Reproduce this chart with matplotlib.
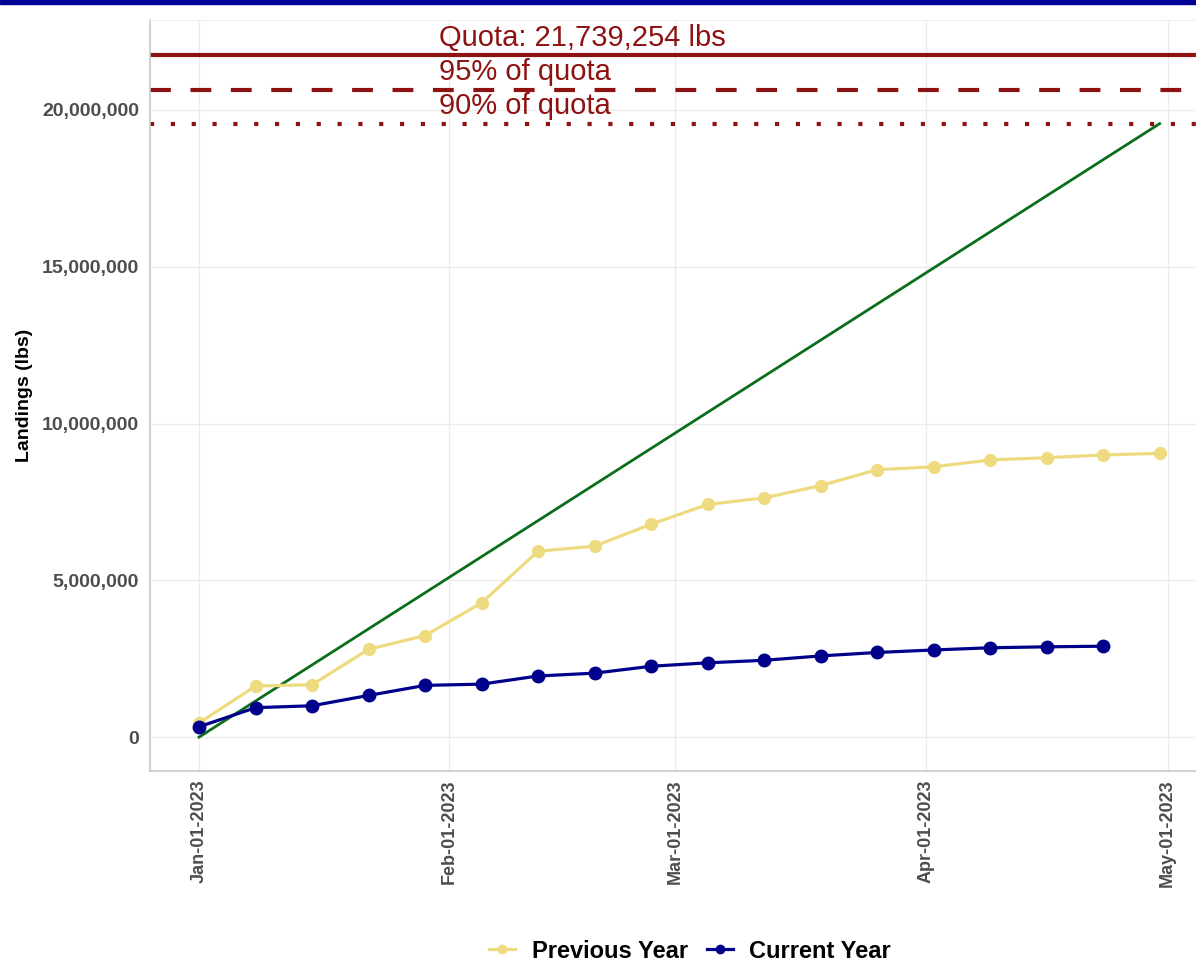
"""
Cumulative landings against quota, current vs previous year
"""

import numpy as np
import pandas as pd
import matplotlib
matplotlib.use("Agg")
import matplotlib.pyplot as plt
import matplotlib.dates as mdates
from matplotlib.ticker import FuncFormatter
from matplotlib.patches import Rectangle

plt.rcParams['font.family'] = ['Liberation Sans', 'DejaVu Sans']

# Data
week_dates = pd.date_range("2023-01-01", periods=18, freq="7D")
previous_year = [0.45e6, 1.63e6, 1.67e6, 2.80e6, 3.24e6, 4.28e6, 5.93e6, 6.09e6,
                 6.79e6, 7.42e6, 7.63e6, 8.02e6, 8.53e6, 8.62e6, 8.84e6, 8.91e6,
                 9.00e6, 9.05e6]
current_year = [0.33e6, 0.94e6, 1.00e6, 1.33e6, 1.65e6, 1.69e6, 1.95e6, 2.04e6,
                2.26e6, 2.37e6, 2.45e6, 2.59e6, 2.70e6, 2.78e6, 2.85e6, 2.88e6,
                2.90e6]
quota = 21739254
target_dates = pd.to_datetime(["2023-01-01", "2023-04-30"])
target_vals = [0, 0.9 * quota]
tick_dates = pd.to_datetime(["2023-01-01", "2023-02-01", "2023-03-01",
                             "2023-04-01", "2023-05-01"])

c_prev = "#EEDB80"
c_curr = "#00008B"
c_green = "#0B6E1A"
c_quota = "#8E1212"
grey_txt = "#4D4D4D"

fig = plt.figure(figsize=(11.96, 9.63), dpi=100)
ax = fig.add_axes([150 / 1196, 1 - 771 / 963, 1 - 150 / 1196, 751 / 963])

# quota lines
ax.axhline(quota, color=c_quota, lw=3, zorder=2)
ax.axhline(0.95 * quota, color=c_quota, lw=3, dashes=(5, 4.7), zorder=2)
ax.axhline(0.90 * quota, color=c_quota, lw=3, dashes=(1, 4), zorder=2)

lab_x = pd.Timestamp("2023-01-30 18:00")
for val, txt in [(quota, "Quota: 21,739,254 lbs"),
                 (0.95 * quota, "95% of quota"),
                 (0.90 * quota, "90% of quota")]:
    ax.annotate(txt, (lab_x, val), xytext=(0, 7), textcoords="offset points",
                ha="left", va="baseline", fontsize=21, color=c_quota)

ax.plot(target_dates, target_vals, color=c_green, lw=2, zorder=3)
ax.plot(week_dates, previous_year, color=c_prev, lw=2.3, marker="o",
        markersize=8.5, zorder=4)
ax.plot(week_dates[:len(current_year)], current_year, color=c_curr, lw=2.3,
        marker="o", markersize=9, zorder=5)

# axes
ax.set_ylim(-1.08e6, 22.87e6)
ax.set_xlim(pd.Timestamp("2023-01-01") - pd.Timedelta(days=6.07),
            pd.Timestamp("2023-01-01") + pd.Timedelta(days=123.5))
ax.set_yticks(np.arange(0, 20000001, 5000000))
ax.yaxis.set_major_formatter(FuncFormatter(lambda v, p: "{:,.0f}".format(v)))
ax.set_xticks(tick_dates)
ax.xaxis.set_major_formatter(mdates.DateFormatter("%b-%d-%Y"))
ax.tick_params(axis="y", length=0, pad=8, labelsize=14, labelcolor=grey_txt)
ax.tick_params(axis="x", length=0, pad=6, labelsize=13, labelcolor=grey_txt,
               labelrotation=90)
for lab in ax.get_xticklabels() + ax.get_yticklabels():
    lab.set_fontweight("bold")
ax.set_ylabel("Landings (lbs)", fontsize=14, fontweight="bold", labelpad=6)
ax.grid(True, color="#EBEBEB", lw=1)
ax.set_axisbelow(True)
for side in ["top", "right"]:
    ax.spines[side].set_color("#EFEFEF")
for side in ["left", "bottom"]:
    ax.spines[side].set_color("#C8C8C8")
    ax.spines[side].set_linewidth(1.2)

# legend
h1, = plt.plot([], [], color=c_prev, lw=2.3, marker="o", markersize=6)
h2, = plt.plot([], [], color=c_curr, lw=2.3, marker="o", markersize=6)
fig.legend([h1, h2], ["Previous Year", "Current Year"], loc="center",
           bbox_to_anchor=(690 / 1196, 1 - 951 / 963), ncol=2, frameon=False,
           prop={"size": 17, "weight": "bold"}, handlelength=1.1,
           handletextpad=0.7, columnspacing=0.8)

# top band
fig.patches.append(Rectangle((0, 1 - 4 / 963), 1, 4 / 963, transform=fig.transFigure,
                             color="#000096", zorder=10))

fig.savefig("out.png", dpi=100)
